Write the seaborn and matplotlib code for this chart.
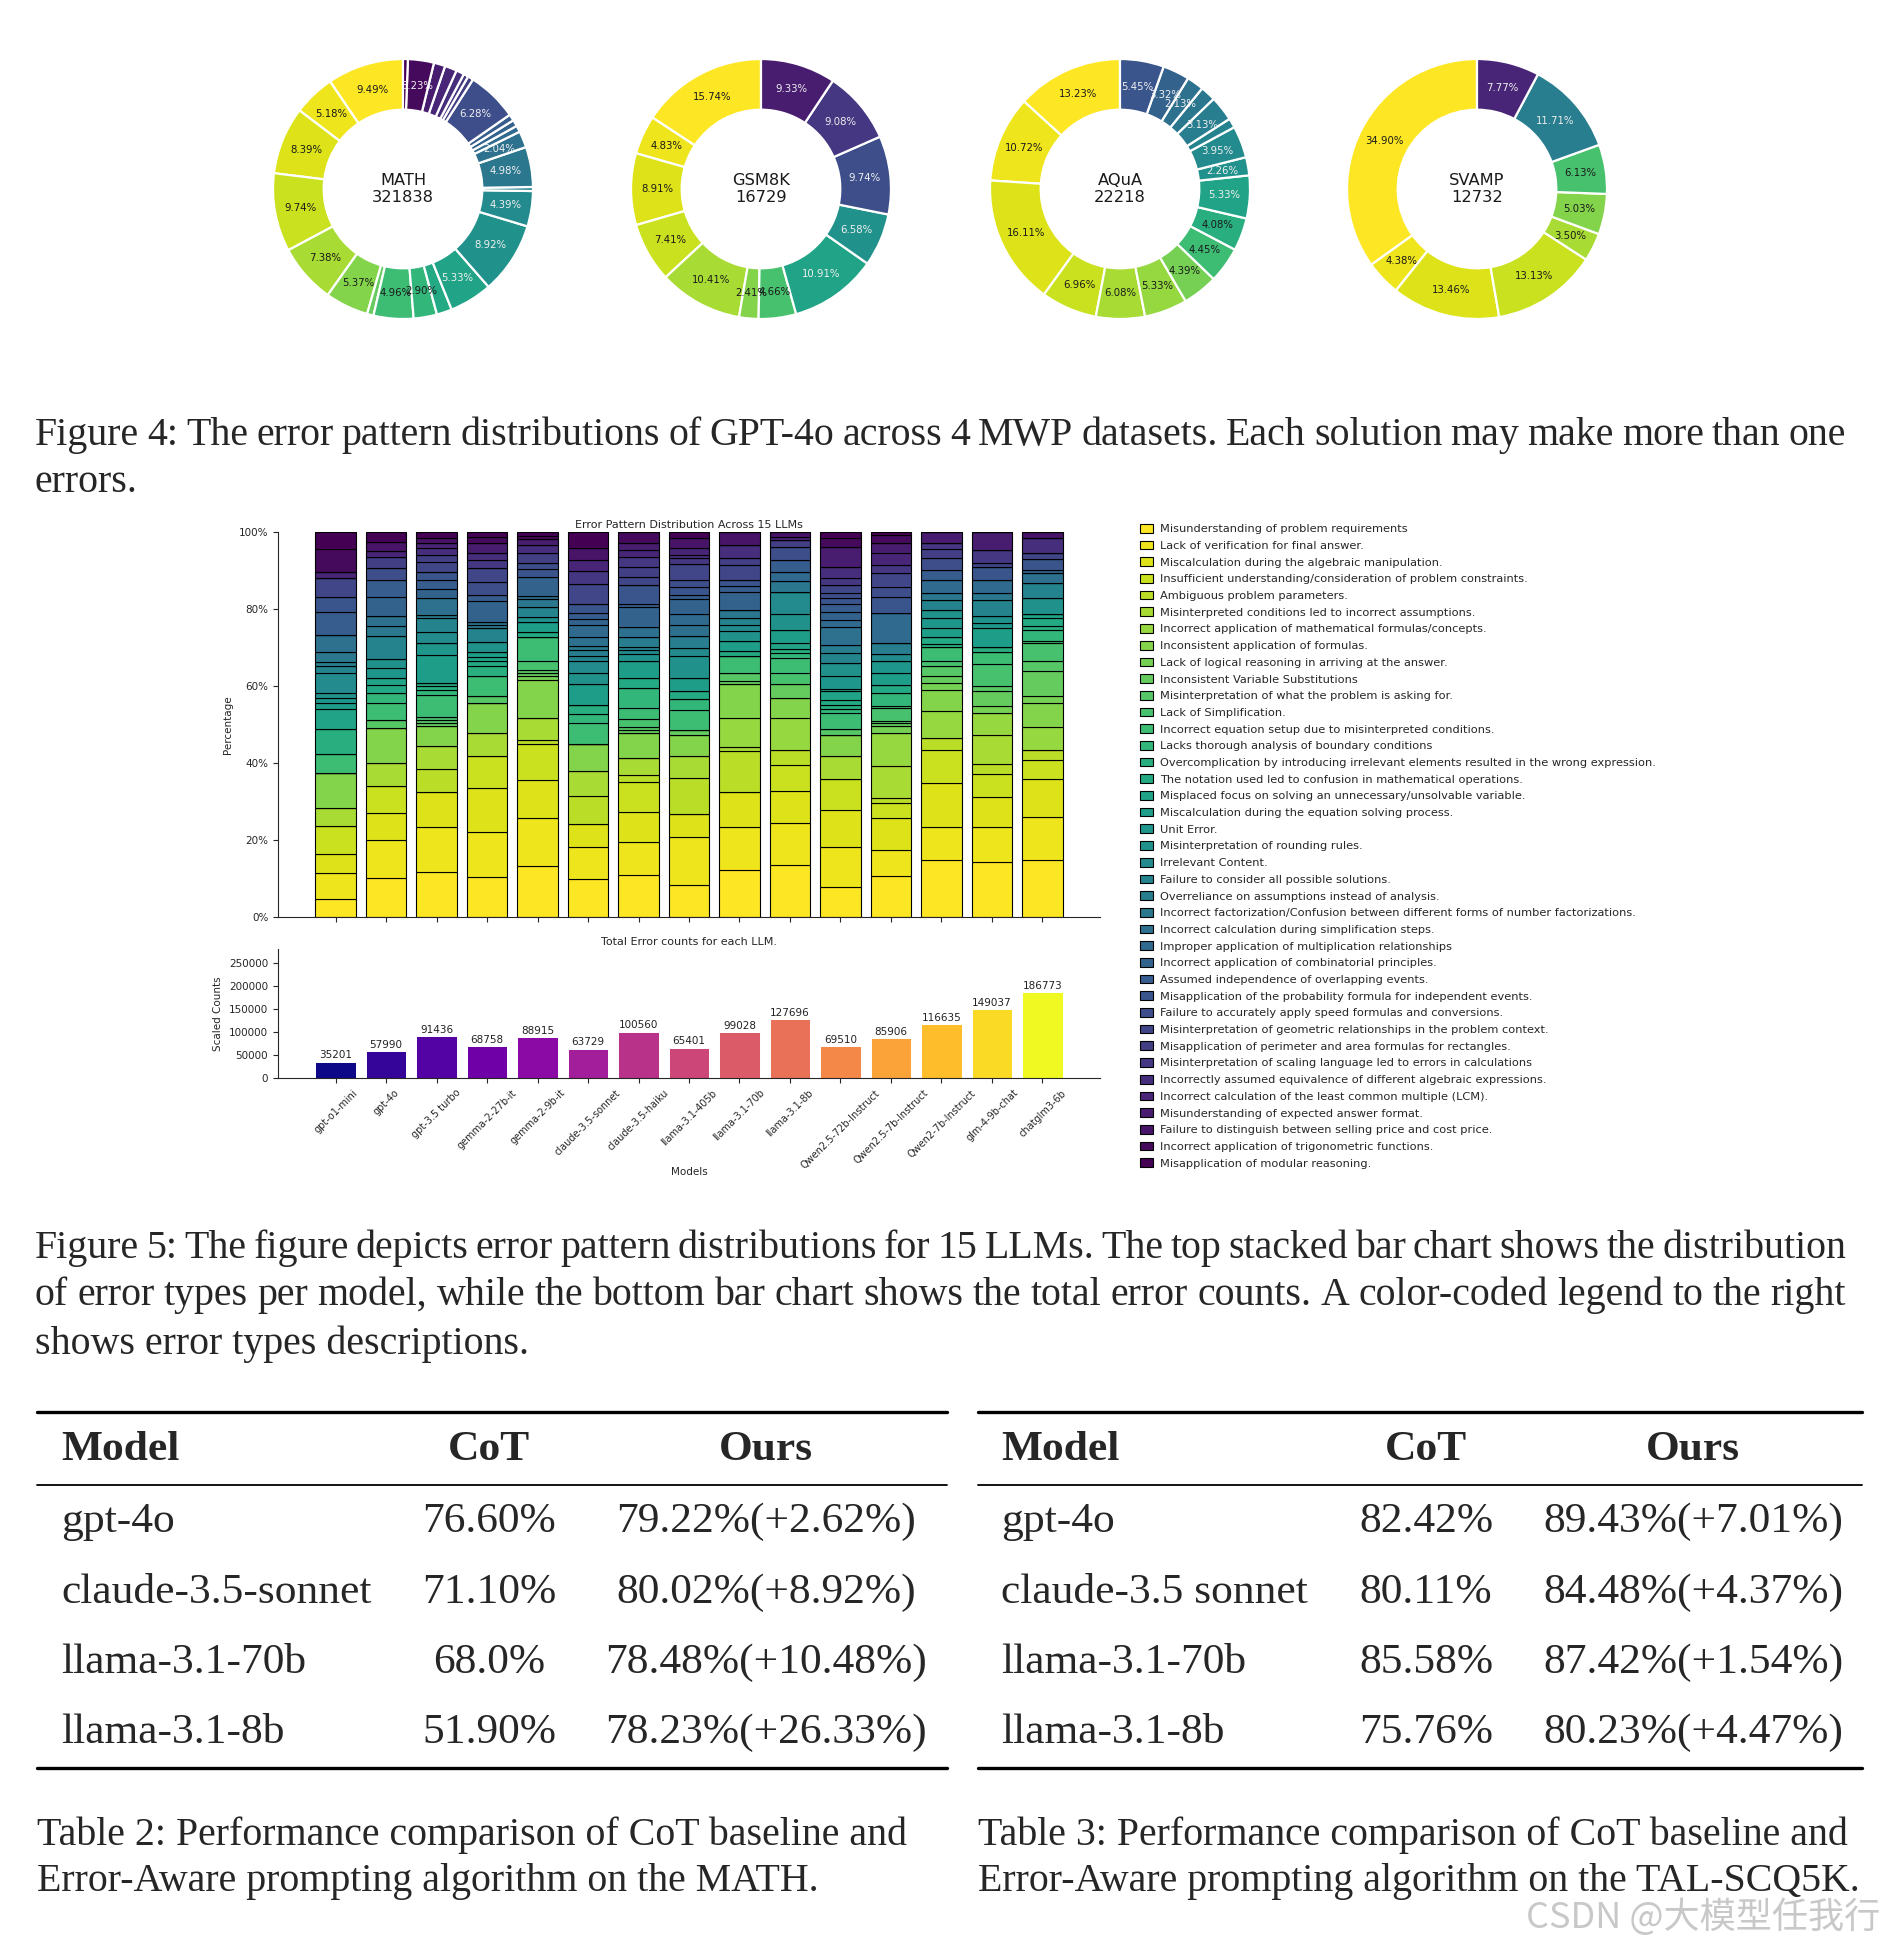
import numpy as np
import pandas as pd
import matplotlib
matplotlib.use("Agg")
import matplotlib.pyplot as plt
import seaborn as sns
from matplotlib.lines import Line2D
from matplotlib.ticker import PercentFormatter

W, H = 1886, 1946

error_types = [
    "Misunderstanding of problem requirements",
    "Lack of verification for final answer.",
    "Miscalculation during the algebraic manipulation.",
    "Insufficient understanding/consideration of problem constraints.",
    "Ambiguous problem parameters.",
    "Misinterpreted conditions led to incorrect assumptions.",
    "Incorrect application of mathematical formulas/concepts.",
    "Inconsistent application of formulas.",
    "Lack of logical reasoning in arriving at the answer.",
    "Inconsistent Variable Substitutions",
    "Misinterpretation of what the problem is asking for.",
    "Lack of Simplification.",
    "Incorrect equation setup due to misinterpreted conditions.",
    "Lacks thorough analysis of boundary conditions",
    "Overcomplication by introducing irrelevant elements resulted in the wrong expression.",
    "The notation used led to confusion in mathematical operations.",
    "Misplaced focus on solving an unnecessary/unsolvable variable.",
    "Miscalculation during the equation solving process.",
    "Unit Error.",
    "Misinterpretation of rounding rules.",
    "Irrelevant Content.",
    "Failure to consider all possible solutions.",
    "Overreliance on assumptions instead of analysis.",
    "Incorrect factorization/Confusion between different forms of number factorizations.",
    "Incorrect calculation during simplification steps.",
    "Improper application of multiplication relationships",
    "Incorrect application of combinatorial principles.",
    "Assumed independence of overlapping events.",
    "Misapplication of the probability formula for independent events.",
    "Failure to accurately apply speed formulas and conversions.",
    "Misinterpretation of geometric relationships in the problem context.",
    "Misapplication of perimeter and area formulas for rectangles.",
    "Misinterpretation of scaling language led to errors in calculations",
    "Incorrectly assumed equivalence of different algebraic expressions.",
    "Incorrect calculation of the least common multiple (LCM).",
    "Misunderstanding of expected answer format.",
    "Failure to distinguish between selling price and cost price.",
    "Incorrect application of trigonometric functions.",
    "Misapplication of modular reasoning.",
]

# donuts (Figure 4): error type number (1-based) and share in %
donut_names = ["MATH", "GSM8K", "AQuA", "SVAMP"]
donut_totals = [321838, 16729, 22218, 12732]
math_types = [1, 2, 3, 4, 6, 8, 10, 13, 14, 16, 17, 20, 21, 22, 24, 25, 26, 27, 28,
              30, 32, 33, 34, 35, 36, 38, 39]
math_share = [9.49, 5.18, 8.39, 9.74, 7.38, 5.37, 0.80, 4.96, 2.90, 1.90, 5.33, 8.92,
              4.39, 0.50, 4.98, 2.04, 0.80, 0.80, 0.80, 6.28, 0.70, 0.60, 1.00, 1.50,
              1.42, 3.23, 0.60]
gsm8k_types = [1, 2, 3, 4, 6, 8, 12, 17, 20, 30, 33, 36]
gsm8k_share = [15.74, 4.83, 8.91, 7.41, 10.41, 2.41, 4.66, 10.91, 6.58, 9.74, 9.08, 9.33]
aqua_types = [1, 2, 3, 4, 6, 7, 9, 13, 15, 17, 20, 21, 22, 23, 24, 25, 27, 29]
aqua_share = [13.23, 10.72, 16.11, 6.96, 6.08, 5.33, 4.39, 4.45, 4.08, 5.33, 2.26, 3.95,
              1.18, 3.13, 1.90, 2.13, 3.32, 5.45]
svamp_types = [1, 2, 3, 4, 6, 8, 12, 23, 35]
svamp_share = [34.90, 4.38, 13.46, 13.13, 3.50, 5.03, 6.13, 11.71, 7.77]

# Figure 5: models, share of each error type (%), total counts
models = ["gpt-o1-mini", "gpt-4o", "gpt-3.5 turbo", "gemma-2-27b-it", "gemma-2-9b-it",
          "claude-3.5-sonnet", "claude-3.5-haiku", "llama-3.1-405b", "llama-3.1-70b",
          "llama-3.1-8b", "Qwen2.5-72b-Instruct", "Qwen2.5-7b-Instruct",
          "Qwen2-7b-Instruct", "glm-4-9b-chat", "chatglm3-6b"]
total_counts = [35201, 57990, 91436, 68758, 88915, 63729, 100560, 65401, 99028,
                127696, 69510, 85906, 116635, 149037, 186773]

share_gpt_o1_mini = [4.7, 6.7, 5.0, 7.3, 0, 4.6, 0, 9.1, 0, 0,
                     0, 0, 4.9, 0, 6.6, 0, 5.2, 1.4, 1.5, 1.1,
                     5.4, 1.6, 1.2, 2.5, 4.5, 0, 0, 5.8, 3.9, 0,
                     5.1, 0, 0, 0, 1.6, 0, 0, 5.8, 4.5]
share_gpt_4o = [10.1, 10.0, 6.9, 6.9, 0, 6.1, 0, 9.0, 0, 0,
                2.2, 0, 4.5, 2.4, 0, 2.2, 1.9, 0, 2.5, 2.3,
                0, 6.0, 0, 2.7, 2.5, 0, 4.8, 4.5, 0, 3.1,
                0, 3.0, 0, 0, 1.5, 0, 2.4, 0, 2.5]
share_gpt_35_turbo = [11.7, 11.7, 9.0, 0, 6.1, 5.8, 0, 5.2, 0, 0.9,
                      0.8, 0.7, 5.8, 1.3, 1.0, 0.8, 0, 7.3, 3.0, 0,
                      2.8, 3.7, 0.9, 0, 4.3, 0, 2.3, 2.4, 2.2, 0,
                      2.6, 1.7, 0, 1.8, 1.3, 0, 1.3, 0, 1.6]
share_gemma_2_27b = [10.4, 11.6, 11.5, 8.2, 0, 6.1, 0, 7.9, 0, 0,
                     1.6, 0, 5.4, 0, 2.4, 1.3, 1.2, 1.3, 0, 2.6,
                     0, 3.5, 0, 0.9, 0.7, 0, 5.6, 1.5, 0, 3.4,
                     3.5, 0, 2.1, 1.8, 0, 2.6, 0, 1.7, 1.2]
share_gemma_2_9b = [13.3, 12.4, 9.9, 9.3, 1.1, 5.6, 0, 10.0, 1.0, 0.7,
                    0.9, 2.4, 6.1, 0, 0, 1.4, 0, 2.6, 0, 1.3,
                    0, 2.4, 0, 2.1, 0.9, 0, 5.0, 0, 1.9, 1.6,
                    0, 2.7, 0, 2.0, 0, 1.5, 0, 0.9, 1.0]
share_claude_35_sonnet = [9.9, 8.3, 6.0, 0, 7.3, 6.3, 0, 7.1, 0, 0,
                          0, 0, 5.4, 2.5, 2.3, 0, 0, 5.4, 0, 3.0,
                          2.9, 1.3, 1.7, 0.9, 2.5, 3.1, 1.6, 1.4, 2.3, 0,
                          5.3, 0, 3.4, 0, 2.7, 0, 3.2, 0, 4.2]
share_claude_35_haiku = [11.0, 8.5, 7.7, 7.8, 1.9, 4.4, 0, 6.6, 0, 0.7,
                         0.8, 2.0, 2.8, 5.2, 0, 2.6, 0, 4.6, 0, 1.7,
                         1.0, 0.9, 2.5, 0, 2.7, 0, 5.2, 0.8, 4.8, 0,
                         2.2, 2.6, 2.6, 0, 1.7, 1.8, 0, 2.9, 0]
share_llama_405b = [8.4, 12.3, 6.0, 0, 9.5, 5.5, 0, 5.6, 0, 1.3,
                    0, 0, 5.2, 2.9, 0, 1.9, 0, 3.4, 0, 5.9,
                    1.9, 0, 3.2, 0, 2.9, 2.8, 3.8, 1.1, 2.0, 1.9,
                    4.2, 0, 1.5, 0.8, 1.8, 0, 2.6, 0, 1.6]
share_llama_70b = [12.1, 11.4, 8.9, 0, 10.6, 1.1, 7.7, 8.8, 0, 0.6,
                   2.1, 0, 4.5, 0, 0, 1.2, 0, 2.8, 0, 2.6,
                   1.5, 1.7, 0, 2.2, 0, 0, 4.7, 1.5, 1.5, 0,
                   3.8, 1.9, 0, 3.4, 0, 0, 3.4, 0, 0]
share_llama_8b = [13.4, 11.0, 8.2, 6.9, 3.9, 0, 8.2, 5.2, 0, 3.8,
                  0, 2.9, 3.7, 1.5, 0.9, 0, 1.5, 3.5, 0, 4.1,
                  5.8, 0, 0, 2.9, 0, 2.3, 0, 3.0, 0, 3.5,
                  0, 1.6, 0, 0, 1.0, 0, 1.2, 0, 0]
share_qwen25_72b = [7.8, 10.4, 9.7, 7.9, 0, 5.9, 0, 5.6, 0, 0,
                    1.6, 0, 4.0, 1.1, 1.1, 1.3, 2.2, 0.6, 3.3, 3.6,
                    0, 2.4, 2.2, 0, 4.7, 1.8, 1.9, 2.1, 1.6, 1.3,
                    2.2, 0, 1.7, 2.8, 0, 5.4, 0, 2.2, 1.6]
share_qwen25_7b = [10.7, 6.6, 8.4, 3.9, 1.3, 8.2, 8.7, 0, 1.7, 0.8,
                   0.7, 3.2, 0.6, 3.5, 0, 2.0, 0, 3.0, 3.3, 0,
                   1.7, 0, 2.8, 0, 0, 7.8, 0, 0, 4.3, 2.6,
                   3.5, 0, 2.1, 0, 3.2, 2.5, 0, 2.1, 0.8]
share_qwen2_7b = [14.7, 8.8, 11.3, 8.5, 3.2, 0, 6.9, 5.6, 1.7, 1.8,
                  2.6, 1.3, 3.8, 0, 0.8, 1.8, 0, 2.2, 2.6, 2.2,
                  0, 2.6, 0, 1.7, 0, 3.4, 0, 2.6, 0, 3.1,
                  0, 2.3, 1.6, 0, 0, 2.9, 0, 0, 0]
share_glm4_9b = [14.2, 9.2, 7.7, 6.1, 2.6, 7.5, 5.8, 0, 1.7, 4.0,
                 1.2, 5.7, 3.2, 0, 1.2, 0, 0, 4.9, 1.3, 1.9,
                 0, 4.2, 0, 1.7, 0, 3.4, 0, 0, 3.5, 0,
                 0.9, 0, 3.4, 0, 0, 4.7, 0, 0, 0]
share_chatglm3_6b = [14.7, 11.3, 9.8, 4.9, 2.7, 0, 5.9, 6.4, 1.6, 6.5,
                     2.6, 4.7, 0.7, 2.8, 0.9, 2.1, 1.1, 0, 0, 4.1,
                     0, 3.9, 0, 0, 2.6, 0, 0.8, 0, 2.8, 0,
                     1.7, 0, 0, 3.8, 0, 0, 1.6, 0, 0]

# tables
table2_models = ["gpt-4o", "claude-3.5-sonnet", "llama-3.1-70b", "llama-3.1-8b"]
table2_cot = ["76.60%", "71.10%", "68.0%", "51.90%"]
table2_ours = ["79.22%(+2.62%)", "80.02%(+8.92%)", "78.48%(+10.48%)", "78.23%(+26.33%)"]
table3_models = ["gpt-4o", "claude-3.5 sonnet", "llama-3.1-70b", "llama-3.1-8b"]
table3_cot = ["82.42%", "80.11%", "85.58%", "75.76%"]
table3_ours = ["89.43%(+7.01%)", "84.48%(+4.37%)", "87.42%(+1.54%)", "80.23%(+4.47%)"]

fig4_caption = ["Figure 4: The error pattern distributions of GPT-4o across 4 MWP datasets. Each solution may make more than one",
                "errors."]
fig5_caption = ["Figure 5: The figure depicts error pattern distributions for 15 LLMs. The top stacked bar chart shows the distribution",
                "of error types per model, while the bottom bar chart shows the total error counts. A color-coded legend to the right",
                "shows error types descriptions."]
table2_caption = ["Table 2: Performance comparison of CoT baseline and",
                  "Error-Aware prompting algorithm on the MATH."]
table3_caption = ["Table 3: Performance comparison of CoT baseline and",
                  "Error-Aware prompting algorithm on the TAL-SCQ5K."]

sns.set_style("ticks")
plt.rcParams["font.family"] = ["DejaVu Sans"]
SERIF = ["Liberation Serif", "DejaVu Serif"]

fig = plt.figure(figsize=(W / 100, H / 100), dpi=100)
renderer = fig.canvas.get_renderer()


def box(left, top, w, h):
    return [left / W, 1 - (top + h) / H, w / W, h / H]


type_colors = plt.get_cmap("viridis")(np.linspace(1, 0, len(error_types)))


def lum(c):
    return 0.299 * c[0] + 0.587 * c[1] + 0.114 * c[2]


# ---- donuts ----
donut_types = [math_types, gsm8k_types, aqua_types, svamp_types]
donut_share = [math_share, gsm8k_share, aqua_share, svamp_share]
donut_cx = [403, 761, 1120, 1477]
for name, total, types, vals, cx in zip(donut_names, donut_totals, donut_types,
                                         donut_share, donut_cx):
    ax = fig.add_axes(box(cx - 162.5, 189 - 162.5, 325, 325))
    cols = [type_colors[t - 1] for t in types]
    wedges, _, autotexts = ax.pie(
        vals, colors=cols, startangle=90, counterclock=True,
        autopct=lambda p: f"{p:.2f}%" if p >= 2 else "", pctdistance=0.8,
        wedgeprops=dict(width=0.39, edgecolor="white", linewidth=1.6),
        textprops=dict(fontsize=7.3))
    for t, c in zip(autotexts, cols):
        t.set_color("#f0f0f0" if lum(c) < 0.5 else "#1a1a1a")
    ax.text(0, 0, f"{name}\n{total}", ha="center", va="center", fontsize=11.7,
            color="#1a1a1a")
    ax.set_xlim(-1.25, 1.25)
    ax.set_ylim(-1.25, 1.25)
    ax.set_aspect("equal")

# ---- stacked distribution ----
share_rows = [share_gpt_o1_mini, share_gpt_4o, share_gpt_35_turbo, share_gemma_2_27b,
              share_gemma_2_9b, share_claude_35_sonnet, share_claude_35_haiku,
              share_llama_405b, share_llama_70b, share_llama_8b, share_qwen25_72b,
              share_qwen25_7b, share_qwen2_7b, share_glm4_9b, share_chatglm3_6b]
share = pd.DataFrame(share_rows, index=models, columns=error_types)
share = share.div(share.sum(axis=1), axis=0) * 100

ax_top = fig.add_axes(box(278, 532, 822, 385))
x = np.arange(len(models))
bottom = np.zeros(len(models))
for j, et in enumerate(error_types):
    vals = share[et].values
    ax_top.bar(x, vals, bottom=bottom, width=0.8, color=type_colors[j],
               edgecolor="black", linewidth=0.8, label=et)
    bottom += vals
ax_top.set_ylim(0, 100)
ax_top.yaxis.set_major_formatter(PercentFormatter(100, decimals=0))
ax_top.set_xticks(x)
ax_top.set_xticklabels([])
ax_top.tick_params(labelsize=7.5)
ax_top.set_ylabel("Percentage", fontsize=7.5)
ax_top.set_title("Error Pattern Distribution Across 15 LLMs", fontsize=8, pad=3)
sns.despine(ax=ax_top)

handles, labels = ax_top.get_legend_handles_labels()
fig.legend(handles, labels, loc="upper left", bbox_to_anchor=(1140 / W, 1 - 524 / H),
           frameon=False, fontsize=8.2, labelspacing=0.56, handlelength=1.1,
           handleheight=0.8, handletextpad=0.7, borderpad=0, borderaxespad=0)

# ---- total counts ----
ax_bot = fig.add_axes(box(278, 949, 822, 129))
plasma = list(plt.get_cmap("plasma")(np.linspace(0, 1, len(models))))
sns.barplot(x=models, y=total_counts, hue=models, palette=plasma, legend=False,
            ax=ax_bot, width=0.8, saturation=1, edgecolor="white", linewidth=0.7)
for cont in ax_bot.containers:
    ax_bot.bar_label(cont, fmt="%d", fontsize=7.5, padding=1, color="#222222")
ax_bot.set_xlim(ax_top.get_xlim())
ax_bot.set_ylim(0, max(total_counts) * 1.5)
ax_bot.set_yticks(range(0, 250001, 50000))
ax_bot.set_xticks(x)
ax_bot.set_xticklabels(models, rotation=45, ha="center", fontsize=7)
ax_bot.tick_params(axis="y", labelsize=7.5)
ax_bot.set_ylabel("Scaled Counts", fontsize=7.5)
ax_bot.set_xlabel("Models", fontsize=7.5, labelpad=-2)
ax_bot.set_title("Total Error counts for each LLM.", fontsize=8, pad=3)
sns.despine(ax=ax_bot)


# ---- page text: captions and tables ----
def text_width(s, size, **kw):
    t = fig.text(0, 0, s, fontsize=size, **kw)
    w = t.get_window_extent(renderer=renderer).width
    t.remove()
    return w


def put(s, x0, y, size, ha="left", x1=None, **kw):
    kw.setdefault("family", SERIF)
    if x1 is None:
        fig.text(x0 / W, 1 - y / H, s, fontsize=size, ha=ha, va="center_baseline", **kw)
        return
    words = s.split(" ")
    widths = [text_width(w, size, **kw) for w in words]
    gap = (x1 - x0 - sum(widths)) / (len(words) - 1)
    xx = x0
    for w, wd in zip(words, widths):
        fig.text(xx / W, 1 - y / H, w, fontsize=size, ha="left", va="center_baseline", **kw)
        xx += wd + gap


cap_size = 20 * 871 / text_width(table2_caption[0], 20, family=SERIF)
tab_size = 20 * 310 / text_width("claude-3.5-sonnet", 20, family=SERIF)

put(fig4_caption[0], 35, 431, cap_size, x1=1846)
put(fig4_caption[1], 35, 478, cap_size)
put(fig5_caption[0], 35, 1244, cap_size, x1=1846)
put(fig5_caption[1], 35, 1291, cap_size, x1=1846)
put(fig5_caption[2], 35, 1340, cap_size)


def hline(x0, x1, y, lw):
    fig.add_artist(Line2D([x0 / W, x1 / W], [1 - y / H, 1 - y / H], color="black",
                          lw=lw, transform=fig.transFigure))


tables = [(table2_models, table2_cot, table2_ours, 37, 947, 61, 489, 766, table2_caption),
          (table3_models, table3_cot, table3_ours, 978, 1862, 1001, 1426, 1693, table3_caption)]
row_y = [1517, 1588, 1658, 1728]
for mods, cots, ours, rx0, rx1, mx, cx, ox, cap in tables:
    hline(rx0, rx1, 1412, 2.4)
    hline(rx0, rx1, 1485, 1.3)
    hline(rx0, rx1, 1768, 2.4)
    put("Model", mx, 1445, tab_size, weight="bold")
    put("CoT", cx, 1445, tab_size, ha="center", weight="bold")
    put("Ours", ox, 1445, tab_size, ha="center", weight="bold")
    for m, c, o, y in zip(mods, cots, ours, row_y):
        put(m, mx, y, tab_size)
        put(c, cx, y, tab_size, ha="center")
        put(o, ox, y, tab_size, ha="center")
    put(cap[0], rx0, 1831, cap_size)
    put(cap[1], rx0, 1877, cap_size)

fig.text(1880 / W, 1 - 1913 / H, "CSDN @大模型任我行", fontsize=26, ha="right",
         va="center_baseline", color="#c8c8c8",
         family=["Noto Sans CJK SC", "DejaVu Sans"])

fig.savefig("out.png", dpi=100)
